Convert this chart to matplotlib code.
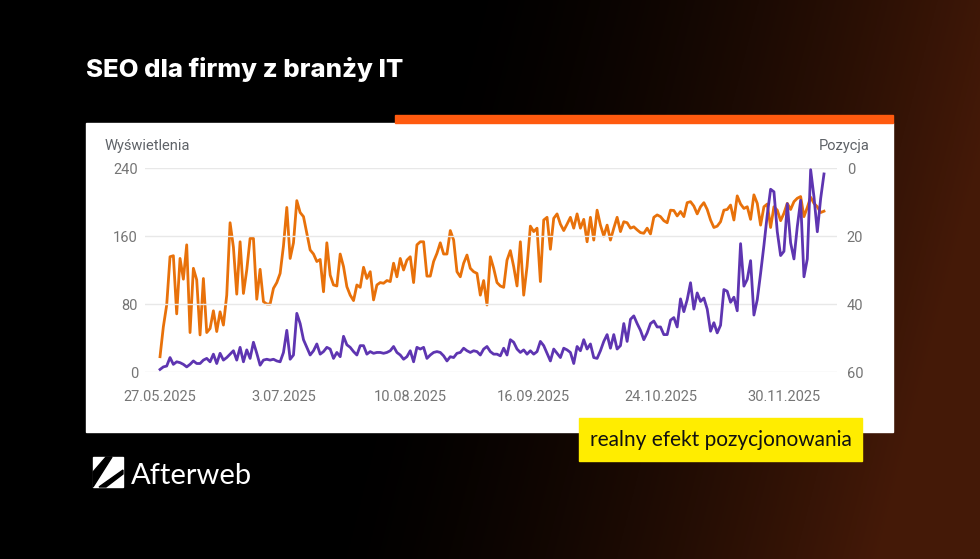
import matplotlib
matplotlib.use("Agg")
import matplotlib.pyplot as plt
from matplotlib.patches import Rectangle, Polygon
import numpy as np
import pandas as pd

# daily data from 27.05.2025
start_date = "2025-05-27"

# Wyświetlenia (left axis, purple)
impressions = [
    3, 6, 7, 17, 9, 12, 11, 9, 6, 9, 13, 10, 10, 14, 16, 12, 21, 10, 22, 14,
    17, 21, 25, 14, 29, 12, 26, 16, 35, 22, 8, 14, 15,
    14, 15, 13, 12, 23, 49, 15, 20, 69, 57, 38, 29, 20, 25, 33, 21, 24, 29,
    27, 16, 23, 18, 42, 32, 29, 24, 20, 31, 31, 21, 24, 22, 23, 23,
    22, 23, 25, 30, 23, 20, 15, 18, 25, 12, 29, 27, 29, 16, 20, 23, 24, 23,
    19, 13, 18, 17, 22, 23, 28, 25, 23, 25, 24, 20, 27, 30, 24, 21,
    21, 19, 28, 20, 38, 35, 27, 23, 26, 21, 25, 21, 24, 36, 31, 22, 13, 27,
    22, 17, 28, 26, 23, 10, 30, 25, 38, 27, 33, 17, 16, 25, 36, 44,
    28, 44, 27, 31, 57, 36, 62, 66, 57, 49, 38, 46, 57, 60, 53, 53, 44, 44,
    61, 64, 53, 86, 71, 85, 105, 74, 93, 83, 87, 74, 48, 58, 46,
    55, 97, 95, 82, 88, 72, 151, 101, 109, 131, 67, 85, 116, 149, 185, 215,
    212, 165, 137, 142, 198, 152, 133, 171, 202, 112, 133, 238, 206, 165,
    204, 233,
]

# Pozycja (right axis, inverted, orange)
position = [
    55.5, 46.7, 40.3, 26.1, 25.8, 42.9, 26.6, 32.7, 22.6, 48.4, 29.5, 32.9,
    49.1, 32.5, 48.4, 47.2, 42.0, 48.1, 42.3, 46.2, 37.4, 16.1, 23.3, 37.1,
    21.7, 36.9, 30.0, 20.7, 20.7, 38.6, 29.8, 39.3, 40.0,
    40.0, 35.4, 33.7, 31.0, 22.9, 11.6, 26.6, 22.0, 9.6, 13.1, 14.3, 19.2,
    24.1, 25.3, 27.5, 26.9, 36.4, 22.0, 31.5, 34.4, 34.7, 25.3, 29.0, 34.9,
    37.4, 39.0, 34.4, 35.1, 29.2, 32.5, 30.5, 38.8, 34.4, 33.7,
    33.9, 33.1, 33.4, 28.0, 32.0, 26.6, 30.0, 27.1, 26.1, 33.7, 22.6, 21.7,
    21.7, 31.8, 31.8, 27.5, 25.1, 22.0, 25.3, 25.3, 18.4, 21.2, 30.5, 32.0,
    28.0, 25.6, 29.5, 30.5, 31.0, 37.4, 33.1, 40.3, 26.1, 29.5,
    33.7, 34.7, 35.1, 27.1, 24.3, 29.0, 34.7, 21.7, 37.4, 29.0, 17.1, 18.7,
    17.7, 33.4, 15.3, 14.5, 23.9, 14.8, 13.5, 16.5, 18.4, 16.5, 14.5, 17.7,
    13.5, 17.7, 15.1, 21.7, 14.5, 21.2, 12.4, 16.8, 20.0, 16.8,
    21.2, 17.7, 14.5, 18.7, 15.8, 16.1, 17.7, 17.3, 18.2, 19.0, 19.2, 17.7,
    19.4, 14.5, 13.8, 14.3, 15.5, 16.1, 12.4, 12.5, 14.1, 12.8, 14.3, 10.2,
    9.9, 11.2, 13.5, 11.4, 10.2, 12.2, 15.3, 17.5, 17.1,
    15.8, 12.4, 12.2, 10.9, 15.3, 8.2, 10.6, 11.9, 11.4, 15.1, 7.9, 10.4,
    16.8, 11.4, 10.6, 17.5, 11.4, 12.4, 15.5, 13.3, 10.4, 12.2, 9.9, 8.9,
    8.4, 14.3, 11.6, 8.6, 10.4, 11.4, 13.1, 12.7,
]

tick_dates = ["2025-05-27", "2025-07-03", "2025-08-10", "2025-09-16",
              "2025-10-24", "2025-11-30"]
left_ticks = [0, 80, 160, 240]
right_ticks = [0, 20, 40, 60]

title = "SEO dla firmy z branży IT"
badge = "realny efekt pozycjonowania"

PURPLE = "#5e35b1"
ORANGE = "#e8710a"
GREY = "#757575"

W, H = 980, 559
fig = plt.figure(figsize=(W / 100, H / 100), dpi=100)
fig.patch.set_facecolor("black")


def fx(px):
    return px / W


def fy(py):
    return 1 - py / H


# dark background, warming up to brown on the right
bg = fig.add_axes([0, 0, 1, 1], zorder=-10)
xx, yy = np.meshgrid(np.linspace(0, 1, 500), np.linspace(0, 1, 300))
t = np.clip((xx - 0.42) / 0.58 + 0.25 * (yy - 0.3), 0, 1) ** 1.5
img = np.dstack([0.27 * t, 0.10 * t, 0.03 * t])
bg.imshow(img, aspect="auto", extent=[0, 1, 0, 1], origin="upper")
bg.set_axis_off()

# white card + orange accent bar
fig.patches.append(Rectangle((fx(86), fy(432)), fx(893 - 86), (432 - 123) / H,
                             transform=fig.transFigure, color="white", zorder=-5))
fig.patches.append(Rectangle((fx(395), fy(123)), fx(893 - 395), 8 / H,
                             transform=fig.transFigure, color="#ff5a0f", zorder=-5))

# chart
dates = pd.date_range(start_date, periods=len(impressions), freq="D")
ax = fig.add_axes([fx(145), fy(372), fx(837 - 145), (372 - 168) / H])
ax.set_facecolor("none")
ax2 = ax.twinx()

ax2.plot(dates, position, color=ORANGE, lw=2, solid_joinstyle="round")
ax.plot(dates, impressions, color=PURPLE, lw=2, solid_joinstyle="round",
        clip_on=False)
ax.set_zorder(ax2.get_zorder() + 1)

ax.set_ylim(0, 240)
ax2.set_ylim(60, 0)
t0 = pd.Timestamp(start_date)
ax.set_xlim(t0 - pd.Timedelta(days=4.5), t0 + pd.Timedelta(days=202.9))

ax.set_yticks(left_ticks)
ax2.set_yticks(right_ticks)
ax.grid(axis="y", color="#e8e8e8", lw=1)
ax.set_axisbelow(True)

ticks = pd.to_datetime(tick_dates)
ax.set_xticks(ticks)
ax.set_xticklabels([f"{d.day}.{d.month:02d}.{d.year}" for d in ticks])

for a in (ax, ax2):
    for s in a.spines.values():
        s.set_visible(False)
ax.tick_params(axis="x", length=0, pad=13, labelsize=10.5, labelcolor=GREY)
ax.tick_params(axis="y", length=0, pad=5, labelsize=10.5, labelcolor=GREY)
ax2.tick_params(axis="y", length=0, pad=7, labelsize=10.5, labelcolor=GREY)
for lab in ax.get_xticklabels() + ax.get_yticklabels() + ax2.get_yticklabels():
    lab.set_fontfamily("Roboto")

fig.text(fx(105), fy(146), "Wyświetlenia", ha="left", va="center",
         fontsize=10.5, color="#5f6368", family="Roboto")
fig.text(fx(870), fy(146), "Pozycja", ha="right", va="center",
         fontsize=10.5, color="#5f6368", family="Roboto")

# title
fig.text(fx(86), fy(77), title, ha="left", va="baseline", fontsize=18.5,
         fontweight="heavy", color="white", family="Inter")

# yellow badge
fig.patches.append(Rectangle((fx(579), fy(461)), fx(862 - 579), (461 - 418) / H,
                             transform=fig.transFigure, color="#ffed00", zorder=5))
fig.text(fx(721), fy(446), badge, ha="center", va="baseline", fontsize=15,
         color="#111111", family="Lato", zorder=6)

# logo
fig.patches.append(Polygon([(fx(93), fy(457)), (fx(123), fy(457)),
                            (fx(123), fy(487)), (fx(93), fy(487))],
                           closed=True, transform=fig.transFigure,
                           color="white", zorder=5))
fig.patches.append(Polygon([(fx(93), fy(487)), (fx(93), fy(472)),
                            (fx(106), fy(457)), (fx(112), fy(457))],
                           closed=True, transform=fig.transFigure,
                           color="black", zorder=6))
fig.patches.append(Polygon([(fx(99), fy(487)), (fx(123), fy(470)),
                            (fx(123), fy(474)), (fx(106), fy(487))],
                           closed=True, transform=fig.transFigure,
                           color="black", zorder=6))
fig.text(fx(131), fy(484), "Afterweb", ha="left", va="baseline", fontsize=21,
         color="white", family="Lato")

fig.savefig("out.png", dpi=100)
